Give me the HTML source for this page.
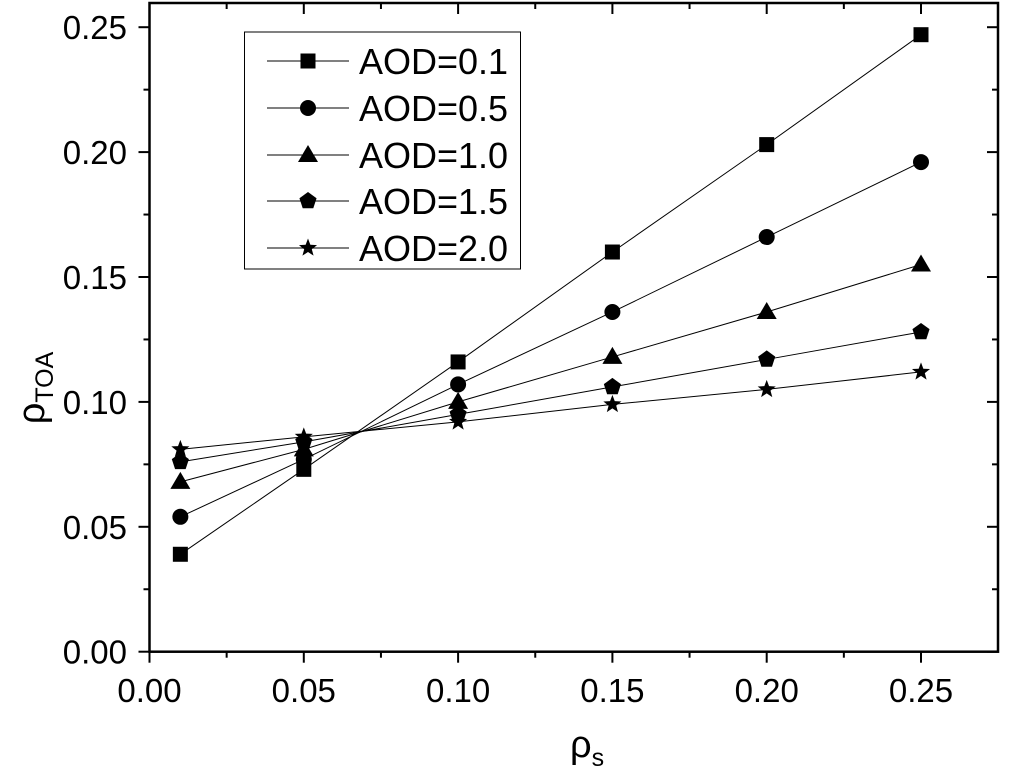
<!DOCTYPE html>
<html><head><meta charset="utf-8"><style>
html,body{margin:0;padding:0;background:#fff;}
svg{display:block;font-family:"Liberation Sans",Arial,sans-serif;}
</style></head><body>
<svg id="chart" width="1024" height="783" xmlns="http://www.w3.org/2000/svg"></svg>
<script>
const xValues=[0.01,0.05,0.10,0.15,0.20,0.25];
const seriesNames=["AOD=0.1","AOD=0.5","AOD=1.0","AOD=1.5","AOD=2.0"];
const s01=[0.039,0.073,0.116,0.160,0.203,0.247];
const s05=[0.054,0.077,0.107,0.136,0.166,0.196];
const s10=[0.068,0.081,0.100,0.118,0.136,0.155];
const s15=[0.076,0.084,0.095,0.106,0.117,0.128];
const s20=[0.081,0.086,0.092,0.099,0.105,0.112];
const xTicks=["0.00","0.05","0.10","0.15","0.20","0.25"];
const yTicks=["0.00","0.05","0.10","0.15","0.20","0.25"];
const series=[s01,s05,s10,s15,s20];
const markers=["square","circle","triangle","pentagon","star"];

const NS="http://www.w3.org/2000/svg";
const svg=document.getElementById('chart');
const L=149.5,R=998,T=3,B=651.7;
const X=v=>L+v/0.05*154.3;
const Y=v=>B-v/0.05*124.9;
function el(t,a,p){const e=document.createElementNS(NS,t);for(const k in a)e.setAttribute(k,a[k]);(p||svg).appendChild(e);return e;}

const frame=el('rect',{x:L,y:T,width:R-L,height:B-T,fill:'none',stroke:'#000','stroke-width':2.5});



for(let i=0;i<=11;i++){
  const v=i*0.025, x=X(v), major=i%2===0, len=major?11:6;
  if(x>R-2)continue;
  const t=el('line',{x1:x,x2:x,y1:B,y2:B+len,stroke:'#000','stroke-width':2});
  
  
  el('line',{x1:x,x2:x,y1:T,y2:T+len,stroke:'#000','stroke-width':2});
}
xTicks.forEach(s=>{
  const tx=el('text',{x:X(parseFloat(s)),y:702,'font-size':33,'text-anchor':'middle'});
  tx.textContent=s;
  
  
});
for(let i=0;i<=10;i++){
  const v=i*0.025,y=Y(v),major=i%2===0,len=major?11:6;
  const t=el('line',{x1:L,x2:L-len,y1:y,y2:y,stroke:'#000','stroke-width':2});
  
  
  el('line',{x1:R,x2:R-len,y1:y,y2:y,stroke:'#000','stroke-width':2});
}
yTicks.forEach(s=>{
  const ty=el('text',{x:127,y:Y(parseFloat(s))+12,'font-size':33,'text-anchor':'end'});
  ty.textContent=s;
  
  
});
const yt=el('text',{x:0,y:0,'font-size':38,transform:'translate(44,388) rotate(-90)','text-anchor':'middle'});
yt.innerHTML='ρ<tspan font-size="25" dy="9">TOA</tspan>';


const xt=el('text',{x:570,y:757,'font-size':38});
xt.innerHTML='ρ<tspan font-size="25" dy="9">s</tspan>';



function marker(type,cx,cy,g){
  if(type==='square')return el('rect',{x:cx-7.5,y:cy-7.5,width:15,height:15,fill:'#000'},g);
  if(type==='circle')return el('circle',{cx:cx,cy:cy,r:8,fill:'#000'},g);
  if(type==='triangle')return el('polygon',{points:`${cx},${cy-10} ${cx+10},${cy+7} ${cx-10},${cy+7}`,fill:'#000'},g);
  if(type==='pentagon'){let p=[];for(let k=0;k<5;k++){const a=-Math.PI/2+k*2*Math.PI/5;p.push((cx+9*Math.cos(a))+','+(cy+9*Math.sin(a)));}return el('polygon',{points:p.join(' '),fill:'#000'},g);}
  let p=[];for(let k=0;k<10;k++){const a=-Math.PI/2+k*Math.PI/5,r=k%2?4:9.5;p.push((cx+r*Math.cos(a))+','+(cy+r*Math.sin(a)));}
  return el('polygon',{points:p.join(' '),fill:'#000'},g);
}
series.forEach((s,i)=>{
  const g=el('g',{});
  
  
  const ln=el('polyline',{points:s.map((v,j)=>X(xValues[j])+','+Y(v)).join(' '),fill:'none',stroke:'#000','stroke-width':1},g);
  
  
  s.forEach((v,j)=>{
    const m=marker(markers[i],X(xValues[j]),Y(v),g);
    
    
  });
});
const lg=el('g',{});


el('rect',{x:244.5,y:32,width:276,height:237,fill:'#fff',stroke:'#000','stroke-width':1},lg);
const ly=[61,108,155,201,248];
seriesNames.forEach((n,i)=>{
  const g=el('g',{},lg);
  
  
  el('line',{x1:267,x2:349,y1:ly[i],y2:ly[i],stroke:'#000','stroke-width':1},g);
  marker(markers[i],308,ly[i],g);
  const t=el('text',{x:359,y:ly[i]+13,'font-size':36},g);
  t.textContent=n;
});
</script>
</body></html>
